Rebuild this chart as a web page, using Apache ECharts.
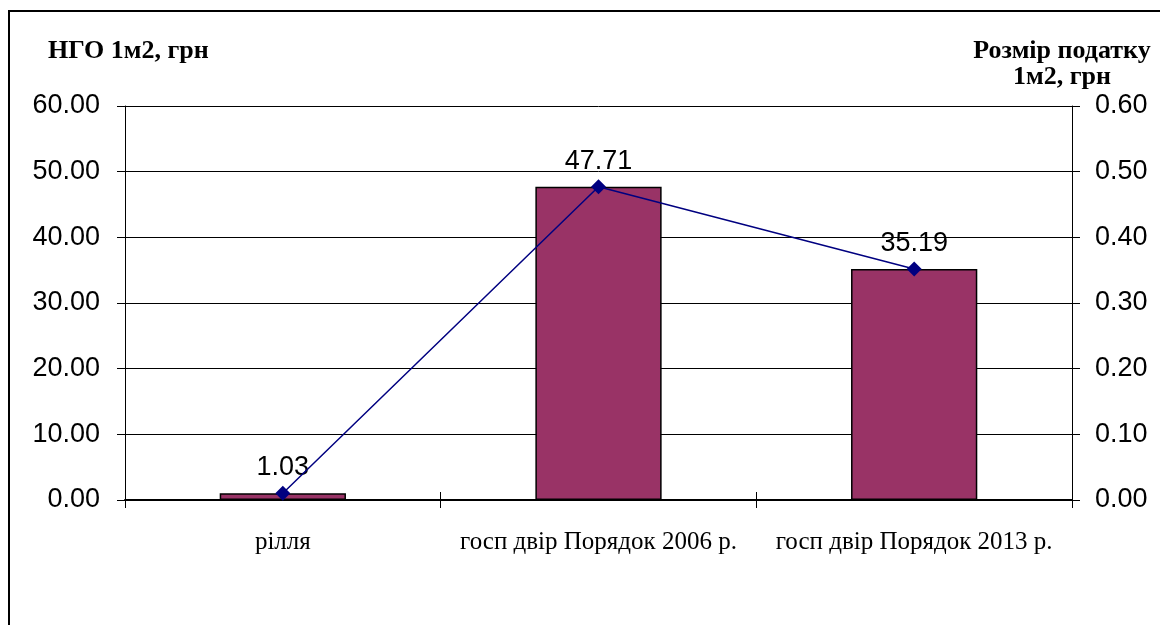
<!DOCTYPE html>
<html>
<head>
<meta charset="utf-8">
<script src="https://cdn.jsdelivr.net/npm/echarts@6/dist/echarts.min.js"></script>
<style>
  html, body { margin: 0; padding: 0; background: #fff; }
  #chart { width: 1160px; height: 625px; }
</style>
</head>
<body>
<div id="chart"></div>
<script>
// Land categories
const categories = ['рілля', 'госп двір Порядок 2006 р.', 'госп двір Порядок 2013 р.'];
// Normative monetary valuation per 1 m2, UAH (left axis)
const ngoValues = [1.03, 47.71, 35.19];
// Land tax per 1 m2, UAH (right axis)
const taxValues = [0.0103, 0.4771, 0.3519];
// Axis ranges
const leftAxis = { min: 0, max: 60, interval: 10 };
const rightAxis = { min: 0, max: 0.6, interval: 0.1 };

const numFont = '"Liberation Sans", Arial, sans-serif';
const serifFont = '"Liberation Serif", "Times New Roman", serif';

const chart = echarts.init(document.getElementById('chart'), null, { renderer: 'canvas' });
chart.setOption({
  animation: false,
  backgroundColor: '#fff',
  grid: { left: 125, right: 88, top: 106, bottom: 125, containLabel: false },
  graphic: [
    { type: 'rect', shape: { x: 9, y: 11, width: 1300, height: 800 },
      style: { fill: 'none', stroke: '#000', lineWidth: 2 }, silent: true },
    { type: 'text', left: 48, top: 38,
      style: { text: 'НГО 1м2, грн', font: 'bold 26px ' + serifFont, fill: '#000' } },
    { type: 'text', x: 1062, y: 38,
      style: { text: 'Розмір податку\n1м2, грн', font: 'bold 26px ' + serifFont, fill: '#000',
               align: 'center', lineHeight: 26 } }
  ],
  xAxis: [
    {
      type: 'category', data: categories, position: 'bottom',
      axisLine: { show: true, lineStyle: { color: '#000', width: 2 } },
      axisTick: { show: true, inside: false, length: 8, alignWithLabel: false, lineStyle: { color: '#000', width: 1 } },
      axisLabel: { color: '#000', fontFamily: serifFont, fontSize: 25, margin: 30, interval: 0 },
      splitLine: { show: false }
    },
    {
      type: 'category', data: categories, position: 'bottom',
      axisLine: { show: false },
      axisTick: { show: true, inside: true, length: 8, lineStyle: { color: '#000', width: 1 } },
      axisLabel: { show: false },
      splitLine: { show: false }
    }
  ],
  yAxis: [
    {
      type: 'value', min: leftAxis.min, max: leftAxis.max, interval: leftAxis.interval,
      axisLine: { show: true, lineStyle: { color: '#000', width: 1 } },
      axisTick: { show: true, length: 8, lineStyle: { color: '#000' } },
      axisLabel: { color: '#000', fontFamily: numFont, fontSize: 27, margin: 25,
                   formatter: v => v.toFixed(2) },
      splitLine: { show: true, lineStyle: { color: '#000', width: 1 } }
    },
    {
      type: 'value', position: 'right', min: rightAxis.min, max: rightAxis.max, interval: rightAxis.interval,
      axisLine: { show: true, lineStyle: { color: '#000', width: 1 } },
      axisTick: { show: true, length: 8, lineStyle: { color: '#000' } },
      axisLabel: { color: '#000', fontFamily: numFont, fontSize: 27, margin: 23,
                   formatter: v => v.toFixed(2) },
      splitLine: { show: false }
    }
  ],
  series: [
    {
      name: 'НГО 1м2, грн', type: 'bar', data: ngoValues, barWidth: '40%',
      xAxisIndex: 0, yAxisIndex: 0,
      itemStyle: { color: '#993366', borderColor: '#000', borderWidth: 1.5 },
      label: { show: true, position: 'top', distance: 12, color: '#000',
               fontFamily: numFont, fontSize: 27, formatter: p => p.value.toFixed(2) }
    },
    {
      name: 'Розмір податку 1м2, грн', type: 'line', data: taxValues,
      xAxisIndex: 0, yAxisIndex: 1,
      symbol: 'diamond', symbolSize: 15,
      lineStyle: { color: '#000080', width: 1.5 },
      itemStyle: { color: '#000080' },
      z: 5
    }
  ]
});
</script>
</body>
</html>
